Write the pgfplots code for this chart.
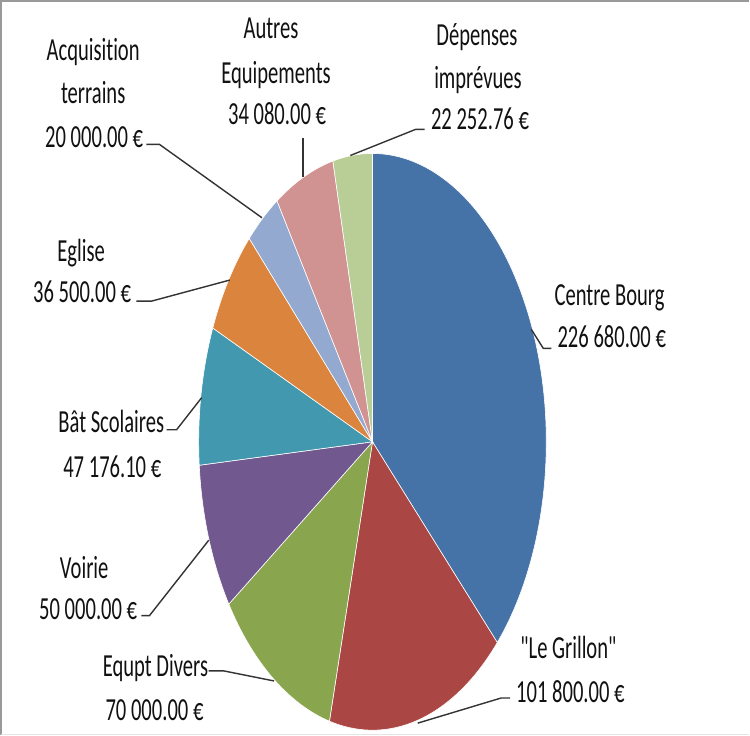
\documentclass[border=0pt]{standalone}
\usepackage{pgfplots}
\pgfplotsset{compat=1.18}
\usepackage{fontspec}
\setmainfont{Carlito}[FakeStretch=0.64]
\newfontfamily\lab{Carlito}[FakeStretch=0.64, Ligatures=NoCommon]
\definecolor{cA}{HTML}{4572A7}
\definecolor{cB}{HTML}{AA4643}
\definecolor{cC}{HTML}{89A54E}
\definecolor{cD}{HTML}{71588F}
\definecolor{cE}{HTML}{4198AF}
\definecolor{cF}{HTML}{DB843D}
\definecolor{cG}{HTML}{93A9CF}
\definecolor{cH}{HTML}{D19392}
\definecolor{cI}{HTML}{B9CD96}
\definecolor{txt}{HTML}{111111}
\definecolor{lead}{HTML}{333333}
% values in thousands of euros
\def\vA{226.68}   % Centre Bourg
\def\vB{101.8}    % "Le Grillon"
\def\vC{70}       % Equpt Divers
\def\vD{50}       % Voirie
\def\vE{47.1761}  % Bat Scolaires
\def\vF{36.5}     % Eglise
\def\vG{20}       % Acquisition terrains
\def\vH{34.08}    % Autres Equipements
\def\vI{22.25276} % Depenses imprevues
\pgfmathsetmacro\tot{\vA+\vB+\vC+\vD+\vE+\vF+\vG+\vH+\vI}
\pgfmathsetmacro\cB{\vA}
\pgfmathsetmacro\cC{\cB+\vB}
\pgfmathsetmacro\cD{\cC+\vC}
\pgfmathsetmacro\cE{\cD+\vD}
\pgfmathsetmacro\cF{\cE+\vE}
\pgfmathsetmacro\cG{\cF+\vF}
\pgfmathsetmacro\cH{\cG+\vG}
\pgfmathsetmacro\cI{\cH+\vH}
\pgfmathsetmacro\aA{90}
\pgfmathsetmacro\aB{90-360*(\cB/\tot)}
\pgfmathsetmacro\aC{90-360*(\cC/\tot)}
\pgfmathsetmacro\aD{90-360*(\cD/\tot)}
\pgfmathsetmacro\aE{90-360*(\cE/\tot)}
\pgfmathsetmacro\aF{90-360*(\cF/\tot)}
\pgfmathsetmacro\aG{90-360*(\cG/\tot)}
\pgfmathsetmacro\aH{90-360*(\cH/\tot)}
\pgfmathsetmacro\aI{90-360*(\cI/\tot)}
\pgfmathsetmacro\aJ{-270}
\begin{document}
\begin{tikzpicture}
\begin{axis}[
  width=750bp, height=734bp, scale only axis,
  xmin=0, xmax=750, ymin=0, ymax=734, y dir=reverse,
  hide axis, clip=false,
  every axis plot/.append style={mark=none},
]
\pgfplotsset{slice/.style={draw=white, line width=0.6pt, samples=90}}
\addplot[slice, fill=cA, domain=\aB:\aA] ({375+173*cos(x)},{442-287*sin(x)}) -- (375,442) -- cycle;
\addplot[slice, fill=cB, domain=\aC:\aB] ({375+173*cos(x)},{442-287*sin(x)}) -- (375,442) -- cycle;
\addplot[slice, fill=cC, domain=\aD:\aC] ({375+173*cos(x)},{442-287*sin(x)}) -- (375,442) -- cycle;
\addplot[slice, fill=cD, domain=\aE:\aD] ({375+173*cos(x)},{442-287*sin(x)}) -- (375,442) -- cycle;
\addplot[slice, fill=cE, domain=\aF:\aE] ({375+173*cos(x)},{442-287*sin(x)}) -- (375,442) -- cycle;
\addplot[slice, fill=cF, domain=\aG:\aF] ({375+173*cos(x)},{442-287*sin(x)}) -- (375,442) -- cycle;
\addplot[slice, fill=cG, domain=\aH:\aG] ({375+173*cos(x)},{442-287*sin(x)}) -- (375,442) -- cycle;
\addplot[slice, fill=cH, domain=\aI:\aH] ({375+173*cos(x)},{442-287*sin(x)}) -- (375,442) -- cycle;
\addplot[slice, fill=cI, domain=\aJ:\aI] ({375+173*cos(x)},{442-287*sin(x)}) -- (375,442) -- cycle;

% frame
\draw[color=black!40, line width=1.5bp] (5,734) -- (5,3) -- (750,3);
\draw[color=black!10, line width=1bp] (5,733) -- (750,733);

% leader lines
\begin{scope}[color=lead, line width=1.4bp]
\draw (150,146) -- (163,146) -- (265,219);
\draw (306,140) -- (306,178);
\draw (427,131) -- (418,131) -- (353,157);
\draw (533,330) -- (545,349) -- (553,349);
\draw (512,697) -- (503,697) -- (420,722);
\draw (212,670) -- (227,670) -- (277,680);
\draw (145,615) -- (153,615) -- (212,540);
\draw (170,430) -- (180,430) -- (205,398);
\draw (140,302) -- (155,302) -- (233,281);
\end{scope}

% labels
\begin{scope}[every node/.style={font=\lab\fontsize{32bp}{38bp}\selectfont, text=txt, inner sep=0pt, anchor=base}]
\node at (97,62) {Acquisition};
\node at (97,105) {terrains};
\node at (98,149) {20 000.00 €};
\node at (274,41) {Autres};
\node at (279,85) {Equipements};
\node at (280,126) {34 080.00 €};
\node at (479,48) {Dépenses};
\node at (480,90) {imprévues};
\node at (482,131) {22 252.76 €};
\node[anchor=base west] at (556,306) {Centre Bourg};
\node[anchor=base west] at (559,348) {226 680.00 €};
\node at (570,658) {"Le Grillon"};
\node at (572,701) {101 800.00 €};
\node at (159,676) {Equpt Divers};
\node at (158,719) {70 000.00 €};
\node at (88,578) {Voirie};
\node at (92,619) {50 000.00 €};
\node at (115,433) {Bât Scolaires};
\node at (116,478) {47 176.10 €};
\node at (85,263) {Eglise};
\node at (86,303) {36 500.00 €};
\end{scope}
\end{axis}
\end{tikzpicture}
\end{document}
